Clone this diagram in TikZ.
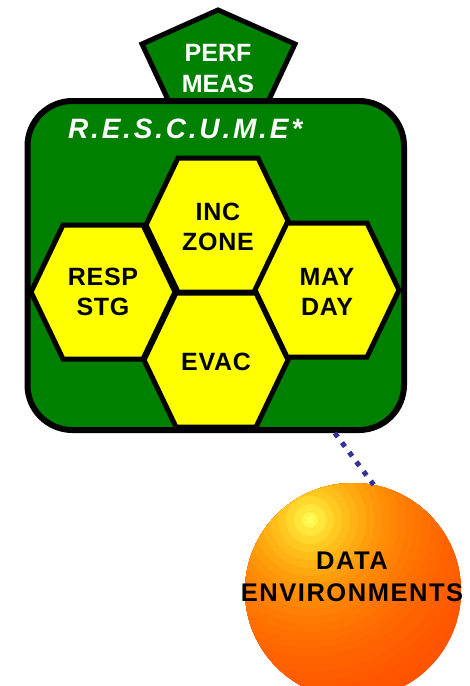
\documentclass[tikz,border=0pt]{standalone}
\usepackage{fontspec}
\setmainfont{Liberation Sans}
\usetikzlibrary{shapes.geometric}
\definecolor{boxgreen}{HTML}{008000}
\definecolor{hexyellow}{HTML}{FFFF00}
\definecolor{dotblue}{HTML}{333399}
\definecolor{corecol}{HTML}{FFFF58}
\tikzset{
  pentstyle/.style={draw=black, line width=5pt, fill=boxgreen, line join=miter},
  boxstyle/.style={draw=black, line width=6pt, fill=boxgreen, rounded corners=45pt,
    minimum width=376.5pt, minimum height=329pt, inner sep=0pt},
  hexstyle/.style={draw=black, line width=5pt, fill=hexyellow, line join=miter},
  hexa/.pic={\path[hexstyle] (-72,0) -- (-40,-67) -- (40,-67) -- (72,0) -- (40,67) -- (-40,67) -- cycle;},
  hextext/.style={align=center, font=\fontsize{25}{30}\selectfont\bfseries\addfontfeature{LetterSpace=3}, text=black, inner sep=0pt},
  whitetext/.style={align=center, font=\fontsize{25}{31}\selectfont\bfseries, text=white, inner sep=0pt},
  titletext/.style={font=\fontsize{28}{34}\selectfont\bfseries\itshape\addfontfeature{LetterSpace=10}, text=white, inner sep=0pt},
  spherestyle/.style={circle, minimum size=216pt, inner sep=0pt},
  datatext/.style={align=center, font=\fontsize{25.5}{32}\selectfont\bfseries\addfontfeature{LetterSpace=6}, text=black, inner sep=0pt},
  dotline/.style={draw=dotblue, line width=5pt, dash pattern=on 5pt off 7pt}
}
\begin{document}
\begin{tikzpicture}[x=1pt,y=-1pt]
\useasboundingbox (0,0) rectangle (469,686);
\clip (0,0) rectangle (469,686);
% pentagon
\path[pentstyle] (218,10) -- (295,44) -- (267,104) -- (170,104) -- (142,44) -- cycle;
\node[whitetext] (perf) at (218,69) {PERF\\MEAS};
% main box
\node[boxstyle] (box) at (215.75,265.5) {};
\node[titletext, anchor=base west] (title) at (68,138.5) {R.E.S.C.U.M.E*};
% hexagons
\pic at (218,225) {hexa};
\pic at (103,292) {hexa};
\pic at (327,290) {hexa};
\pic at (216,360) {hexa};
\node[hextext] (inc) at (218,227) {INC\\ZONE};
\node[hextext] (resp) at (103,292) {RESP\\STG};
\node[hextext] (mayday) at (327,292) {MAY\\DAY};
\node[hextext] (evac) at (216,362) {EVAC};
% sphere: banded radial gradient centred on an upper-left highlight
\node[spherestyle] (data) at (353,591) {};
\coordinate (hilite) at (310,520);
\begin{scope}
  \clip (data.center) circle[radius=108pt];
  \foreach \d in {200,192,...,8}{
    \pgfmathsetmacro\gg{int(60+195*exp(-(\d-4)/88))}
    \pgfmathsetmacro\bb{int(88*exp(-(\d-4)/30))}
    \definecolor{ringc}{RGB}{255,\gg,\bb}
    \fill[ringc] (hilite) circle[radius=\d pt];
  }
  \fill[corecol] (hilite) circle[radius=4pt];
\end{scope}
\node[datatext] (datalabel) at (352,577) {DATA\\ENVIRONMENTS};
% connector
\draw[dotline] ([xshift=119pt]box.south) -- (data.79.5);
\end{tikzpicture}
\end{document}
